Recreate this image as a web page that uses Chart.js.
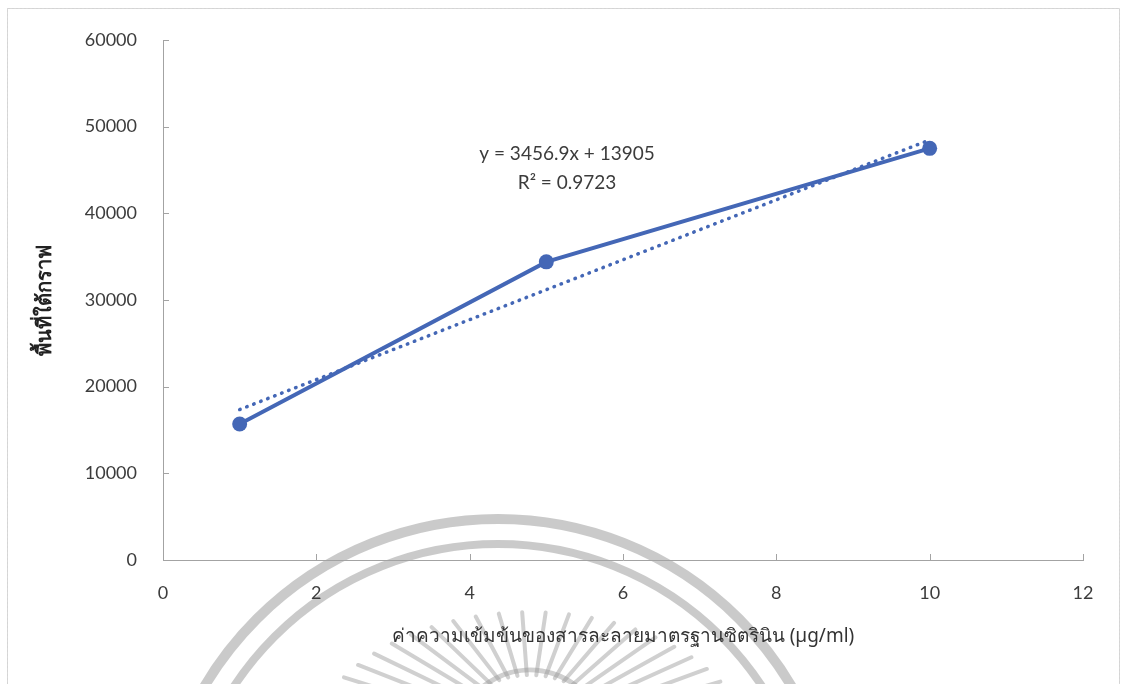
<!DOCTYPE html>
<html>
<head>
<meta charset="utf-8">
<script src="https://cdn.jsdelivr.net/npm/chart.js@4.4.1/dist/chart.umd.min.js"></script>
<style>
  html, body { margin: 0; padding: 0; background: #fff; }
  #wrap { width: 1124px; height: 684px; }
</style>
</head>
<body>
<div id="wrap"><canvas id="chart" width="1124" height="684"></canvas></div>
<script>
// ข้อมูลกราฟมาตรฐาน
const concentrations = [1, 5, 10];
const areaValues = [15700, 34400, 47500];
// เส้นแนวโน้ม (จุดปลายทั้งสองด้าน)
const trendX = [1, 10];
const trendY = [17362, 48474];
const equationLines = ['y = 3456.9x + 13905', 'R² = 0.9723'];
const xTicks = [0, 2, 4, 6, 8, 10, 12];
const yTicks = [0, 10000, 20000, 30000, 40000, 50000, 60000];

const xTitle = 'ค่าความเข้มข้นของสารละลายมาตรฐานซิตรินิน (µg/ml)';
const yTitle = 'พื้นที่ใต้กราฟ';

const blue = '#4467b6';
const axisGray = '#a3a3a3';
const textGray = '#3c3c3c';
const labelFont = 'Lato, "Open Sans", "Noto Sans", sans-serif';

// ลายน้ำตราและกรอบ
const backdrop = {
    id: 'backdrop',
    beforeDraw(chart) {
        const ctx = chart.ctx;
        ctx.save();
        ctx.fillStyle = '#fff';
        ctx.fillRect(0, 0, chart.width, chart.height);

        ctx.strokeStyle = 'rgba(150,150,150,0.5)';
        ctx.lineWidth = 10;
        ctx.beginPath();
        ctx.arc(498, 860, 341, Math.PI, 2 * Math.PI);
        ctx.stroke();
        ctx.lineWidth = 8;
        ctx.beginPath();
        ctx.arc(498, 860, 316, Math.PI, 2 * Math.PI);
        ctx.stroke();

        // รัศมี
        ctx.strokeStyle = 'rgba(150,150,150,0.45)';
        ctx.lineWidth = 4;
        ctx.lineCap = 'round';
        for (let a = 196; a <= 344; a += 6) {
            const t = a * Math.PI / 180;
            const long = (a % 12 === 0) ? 1 : 0.88;
            ctx.beginPath();
            ctx.moveTo(530 + Math.cos(t) * 90, 760 + Math.sin(t) * 85);
            ctx.lineTo(530 + Math.cos(t) * 255 * long, 760 + Math.sin(t) * 168 * long);
            ctx.stroke();
        }
        ctx.lineWidth = 5;
        ctx.beginPath();
        ctx.arc(530, 745, 75, 1.1 * Math.PI, 1.9 * Math.PI);
        ctx.stroke();

        ctx.strokeStyle = '#d4d4d4';
        ctx.lineWidth = 1;
        ctx.setLineDash([3, 1]);
        ctx.strokeRect(7.5, 8.5, 1112, 700);
        ctx.restore();
    },
    afterDraw(chart) {
        const ctx = chart.ctx;
        const {x, y} = chart.scales;
        const area = chart.chartArea;
        ctx.save();
        ctx.strokeStyle = axisGray;
        ctx.lineWidth = 1;
        // ขีดแกนด้านใน
        x.ticks.forEach(t => {
            if (t.value === 0) return;
            const px = Math.round(x.getPixelForValue(t.value)) + 0.5;
            ctx.beginPath();
            ctx.moveTo(px, area.bottom);
            ctx.lineTo(px, area.bottom - 6);
            ctx.stroke();
        });
        y.ticks.forEach(t => {
            if (t.value === 0) return;
            const py = Math.round(y.getPixelForValue(t.value)) + 0.5;
            ctx.beginPath();
            ctx.moveTo(area.left, py);
            ctx.lineTo(area.left + 6, py);
            ctx.stroke();
        });

        // สมการเส้นแนวโน้ม
        ctx.fillStyle = textGray;
        ctx.font = '19px ' + labelFont;
        ctx.textAlign = 'center';
        ctx.textBaseline = 'middle';
        const ex = x.getPixelForValue(5.27);
        const ey = y.getPixelForValue(46900);
        equationLines.forEach((line, i) => {
            ctx.fillText(line, ex, ey + i * 29);
        });
        ctx.restore();
    }
};

const ctx = document.getElementById('chart').getContext('2d');
new Chart(ctx, {
    type: 'scatter',
    data: {
        datasets: [{
            label: 'trend',
            data: trendX.map((v, i) => ({x: v, y: trendY[i]})),
            showLine: true,
            borderColor: blue,
            borderWidth: 3.5,
            borderDash: [0.5, 7],
            borderCapStyle: 'round',
            pointRadius: 0
        }, {
            label: 'area',
            data: concentrations.map((v, i) => ({x: v, y: areaValues[i]})),
            showLine: true,
            borderColor: blue,
            backgroundColor: blue,
            borderWidth: 4,
            pointRadius: 7.5,
            pointBorderWidth: 0
        }]
    },
    options: {
        responsive: false,
        animation: false,
        layout: { padding: { top: 40, right: 41, left: 0, bottom: 0 } },
        plugins: {
            legend: { display: false },
            tooltip: { enabled: false }
        },
        scales: {
            x: {
                type: 'linear',
                min: xTicks[0],
                max: xTicks[xTicks.length - 1],
                afterBuildTicks: s => { s.ticks = xTicks.map(v => ({value: v})); },
                afterFit: s => { s.height = 124; },
                grid: { display: false, drawTicks: false },
                border: { display: true, color: axisGray, width: 1 },
                ticks: {
                    padding: 22,
                    color: textGray,
                    font: { family: labelFont, size: 18 }
                },
                title: {
                    display: true,
                    text: xTitle,
                    color: '#333',
                    font: { family: '"Noto Sans", "DejaVu Sans", sans-serif', size: 19 },
                    padding: { top: 0, bottom: 36 }
                }
            },
            y: {
                type: 'linear',
                min: yTicks[0],
                max: yTicks[yTicks.length - 1],
                afterBuildTicks: s => { s.ticks = yTicks.map(v => ({value: v})); },
                afterFit: s => { s.width = 163; },
                grid: { display: false, drawTicks: false },
                border: { display: true, color: axisGray, width: 1 },
                ticks: {
                    padding: 26,
                    color: textGray,
                    font: { family: labelFont, size: 18 },
                    callback: v => String(v)
                },
                title: {
                    display: true,
                    text: yTitle,
                    color: '#222',
                    font: { family: '"Noto Sans", "DejaVu Sans", sans-serif', size: 20, weight: 'bold' },
                    padding: { top: 33, bottom: 0 }
                }
            }
        }
    },
    plugins: [backdrop]
});
</script>
</body>
</html>
